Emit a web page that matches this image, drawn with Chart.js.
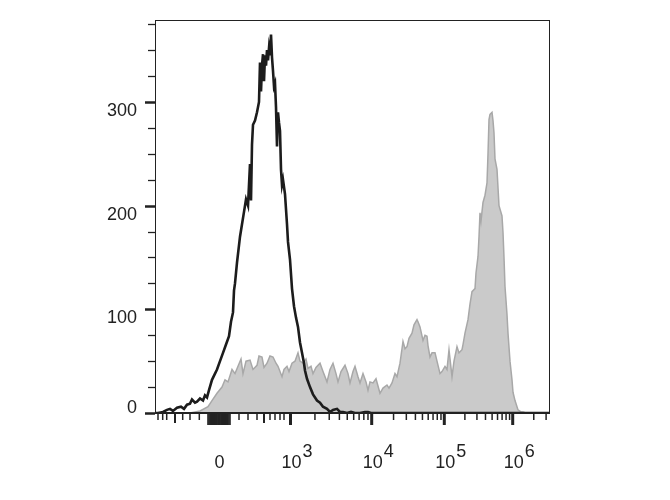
<!DOCTYPE html>
<html>
<head>
<meta charset="utf-8">
<script src="https://cdn.jsdelivr.net/npm/chart.js@4/dist/chart.umd.min.js"></script>
<style>
  html, body { margin: 0; padding: 0; background: #fff; }
  #wrap { width: 670px; height: 500px; position: relative; }
</style>
</head>
<body>
<div id="wrap"><canvas id="histo"></canvas></div>
<script>
// x is in display channels (biexponential axis, 0..395 across the plot)
// Unstained control (black outline)
const controlX = [0, 3, 8, 12, 15, 18, 22, 26, 29, 32, 35, 37, 40, 42, 45, 48, 50, 52, 54, 57, 60, 62, 65, 68, 71, 74, 76, 78, 79, 80, 82, 85, 87, 89, 91, 93, 95, 96, 97, 98, 100, 102, 104, 105, 106, 107, 108, 109, 110, 111, 112, 113, 114, 115, 116, 117, 118, 119, 120, 121, 122, 123, 124, 125, 126, 127, 128, 130, 132, 133, 135, 137, 139, 141, 143, 145, 147, 149, 150, 152, 155, 158, 162, 165, 168, 172, 175, 178, 182, 185, 188, 192, 196, 200, 205, 210, 213, 216, 225, 260, 300, 340, 395];
const controlY = [0, 0, 1, 3, 4, 2, 5, 6, 4, 8, 9, 13, 10, 11, 14, 12, 17, 15, 22, 32, 38, 42, 50, 58, 66, 74, 88, 97, 118, 125, 145, 170, 182, 194, 206, 200, 240, 205, 259, 278, 282, 290, 300, 338, 310, 335, 346, 320, 345, 335, 350, 340, 352, 345, 365, 343, 330, 315, 318, 295, 257, 290, 280, 272, 235, 220, 225, 211, 182, 165, 148, 120, 103, 92, 83, 68, 58, 48, 41, 33, 25, 18, 12, 10, 6, 4, 1, 3, 4, 1, 1, 0, 1, 0, 0, 1, 1, 0, 0, 0, 0, 0, 0];

// Stained sample (grey filled)
const sampleX = [0, 35, 45, 53, 57, 62, 67, 70, 73, 77, 80, 83, 86, 88, 91, 95, 98, 102, 104, 107, 109, 112, 115, 118, 121, 123, 127, 129, 132, 134, 137, 140, 143, 145, 148, 151, 153, 156, 158, 161, 165, 168, 172, 175, 178, 181, 183, 186, 190, 193, 195, 198, 200, 203, 205, 208, 211, 213, 215, 218, 221, 225, 228, 232, 234, 237, 240, 242, 245, 248, 250, 252, 254, 257, 259, 262, 263, 265, 268, 270, 272, 273, 275, 277, 280, 282, 285, 287, 290, 292, 294, 297, 299, 302, 304, 307, 308, 310, 313, 315, 317, 320, 321, 323, 324, 325, 326, 328, 330, 332, 333, 334, 335, 337, 338, 339, 340, 342, 344, 347, 348, 349, 350, 352, 353, 355, 357, 358, 360, 362, 363, 366, 368, 371, 395];
const sampleY = [0, 0, 2, 6, 12, 19, 25, 32, 30, 42, 38, 45, 52, 38, 50, 51, 42, 46, 55, 54, 44, 48, 55, 54, 48, 45, 35, 42, 45, 40, 48, 50, 58, 50, 48, 52, 43, 45, 38, 44, 48, 40, 30, 42, 48, 38, 30, 40, 46, 38, 29, 40, 45, 35, 29, 38, 30, 22, 30, 29, 33, 19, 24, 27, 24, 29, 38, 35, 48, 69, 62, 64, 72, 77, 85, 90, 88, 83, 70, 75, 74, 65, 54, 58, 58, 50, 38, 40, 45, 42, 61, 35, 50, 64, 58, 61, 66, 77, 90, 105, 117, 120, 135, 151, 170, 193, 185, 203, 210, 222, 250, 283, 288, 290, 282, 270, 245, 235, 200, 190, 174, 150, 122, 95, 77, 50, 32, 20, 12, 6, 3, 1, 1, 0, 0];

// Axis ticks: labelled decades and their channel positions
const xTickLabels = ['0', '3', '4', '5', '6'];
const xTickChannels = [64, 135.5, 216.7, 289.3, 357.7];
const yTickLabels = ['0', '100', '200', '300'];
const yTickValues = [0, 100, 200, 300];

// minor ticks in the linear / low region around zero
const nearZeroTicks = [3, 7.7, 11.7, 27.7, 35, 44.3, 84, 93, 102, 115, 120, 125, 129];
const halfDecadeTicks = [20, 109];

const FONT = '"Liberation Sans", Arial, Helvetica, sans-serif';
const INK = '#222';

function toPoints(xs, ys) {
  return xs.map((x, i) => ({ x: x, y: ys[i] }));
}

// minor ticks inside each decade, spaced like a log axis
function decadeMinorTicks() {
  const out = [];
  const widths = [81.2, 72.6, 68.4, 70];
  for (let d = 1; d < xTickChannels.length; d++) {
    const start = xTickChannels[d];
    const w = widths[d - 1];
    for (let k = 2; k <= 9; k++) {
      const c = start + Math.log10(k) * w;
      if (c < 395) out.push(c);
    }
  }
  return out;
}

const axisPlugin = {
  id: 'flowAxes',
  afterDatasetsDraw(chart) {
    const ctx = chart.ctx;
    const xs = chart.scales.x;
    const ys = chart.scales.y;
    const area = chart.chartArea;
    ctx.save();

    // frame
    ctx.strokeStyle = INK;
    ctx.lineWidth = 1;
    ctx.strokeRect(area.left + 0.5, area.top + 0.5, area.right - area.left - 1, area.bottom - area.top);
    ctx.lineWidth = 2;
    ctx.beginPath();
    ctx.moveTo(area.left, area.bottom);
    ctx.lineTo(area.right, area.bottom);
    ctx.stroke();

    // y ticks
    for (let v = 0; v <= 375; v += 25) {
      const py = Math.round(ys.getPixelForValue(v)) + 0.5;
      const major = v % 100 === 0;
      ctx.lineWidth = major ? 2.5 : 1.3;
      ctx.beginPath();
      ctx.moveTo(area.left - (major ? 10 : 7), py);
      ctx.lineTo(area.left, py);
      ctx.stroke();
    }
    ctx.fillStyle = INK;
    ctx.font = '18px ' + FONT;
    ctx.textAlign = 'right';
    ctx.textBaseline = 'alphabetic';
    yTickValues.forEach((v, i) => {
      const py = ys.getPixelForValue(v);
      ctx.fillText(yTickLabels[i], 137, v === 0 ? py : py + 14);
    });

    // x ticks
    const drawX = (c, len, w) => {
      const px = xs.getPixelForValue(c);
      ctx.lineWidth = w;
      ctx.beginPath();
      ctx.moveTo(px, area.bottom);
      ctx.lineTo(px, area.bottom + len);
      ctx.stroke();
    };
    nearZeroTicks.forEach(c => drawX(c, 7, 1.5));
    halfDecadeTicks.forEach(c => drawX(c, 10, 2));
    decadeMinorTicks().forEach(c => drawX(c, 7, 1.5));
    for (let c = 53; c <= 75; c += 1.1) drawX(c, 12, 1.6);
    xTickChannels.forEach(c => drawX(c, 12, 3));

    // x labels, powers of ten with superscript exponent
    ctx.font = '18px ' + FONT;
    ctx.textBaseline = 'alphabetic';
    xTickChannels.forEach((c, i) => {
      const px = xs.getPixelForValue(c);
      if (xTickLabels[i] === '0') {
        ctx.textAlign = 'center';
        ctx.fillText('0', px + 0.5, 468);
        return;
      }
      ctx.textAlign = 'center';
      ctx.fillText('10', px + 1, 468);
      const half = ctx.measureText('10').width / 2;
      ctx.textAlign = 'left';
      ctx.fillText(xTickLabels[i], px + 1 + half + 1, 457);
    });

    ctx.restore();
  }
};

new Chart(document.getElementById('histo'), {
  type: 'line',
  data: {
    datasets: [
      {
        label: 'Control',
        data: toPoints(controlX, controlY),
        borderColor: '#1c1c1c',
        borderWidth: 2.6,
        fill: false,
        pointRadius: 0,
        tension: 0
      },
      {
        label: 'Stained',
        data: toPoints(sampleX, sampleY),
        borderColor: '#a8a8a8',
        backgroundColor: '#cacaca',
        borderWidth: 1.5,
        fill: 'origin',
        pointRadius: 0,
        tension: 0
      }
    ]
  },
  options: {
    responsive: true,
    maintainAspectRatio: false,
    animation: false,
    layout: { padding: { left: 155, top: 20, right: 120, bottom: 87 } },
    plugins: { legend: { display: false }, tooltip: { enabled: false } },
    scales: {
      x: { type: 'linear', min: 0, max: 395, display: false },
      y: { type: 'linear', min: 0, max: 379, display: false }
    }
  },
  plugins: [axisPlugin]
});
</script>
</body>
</html>
